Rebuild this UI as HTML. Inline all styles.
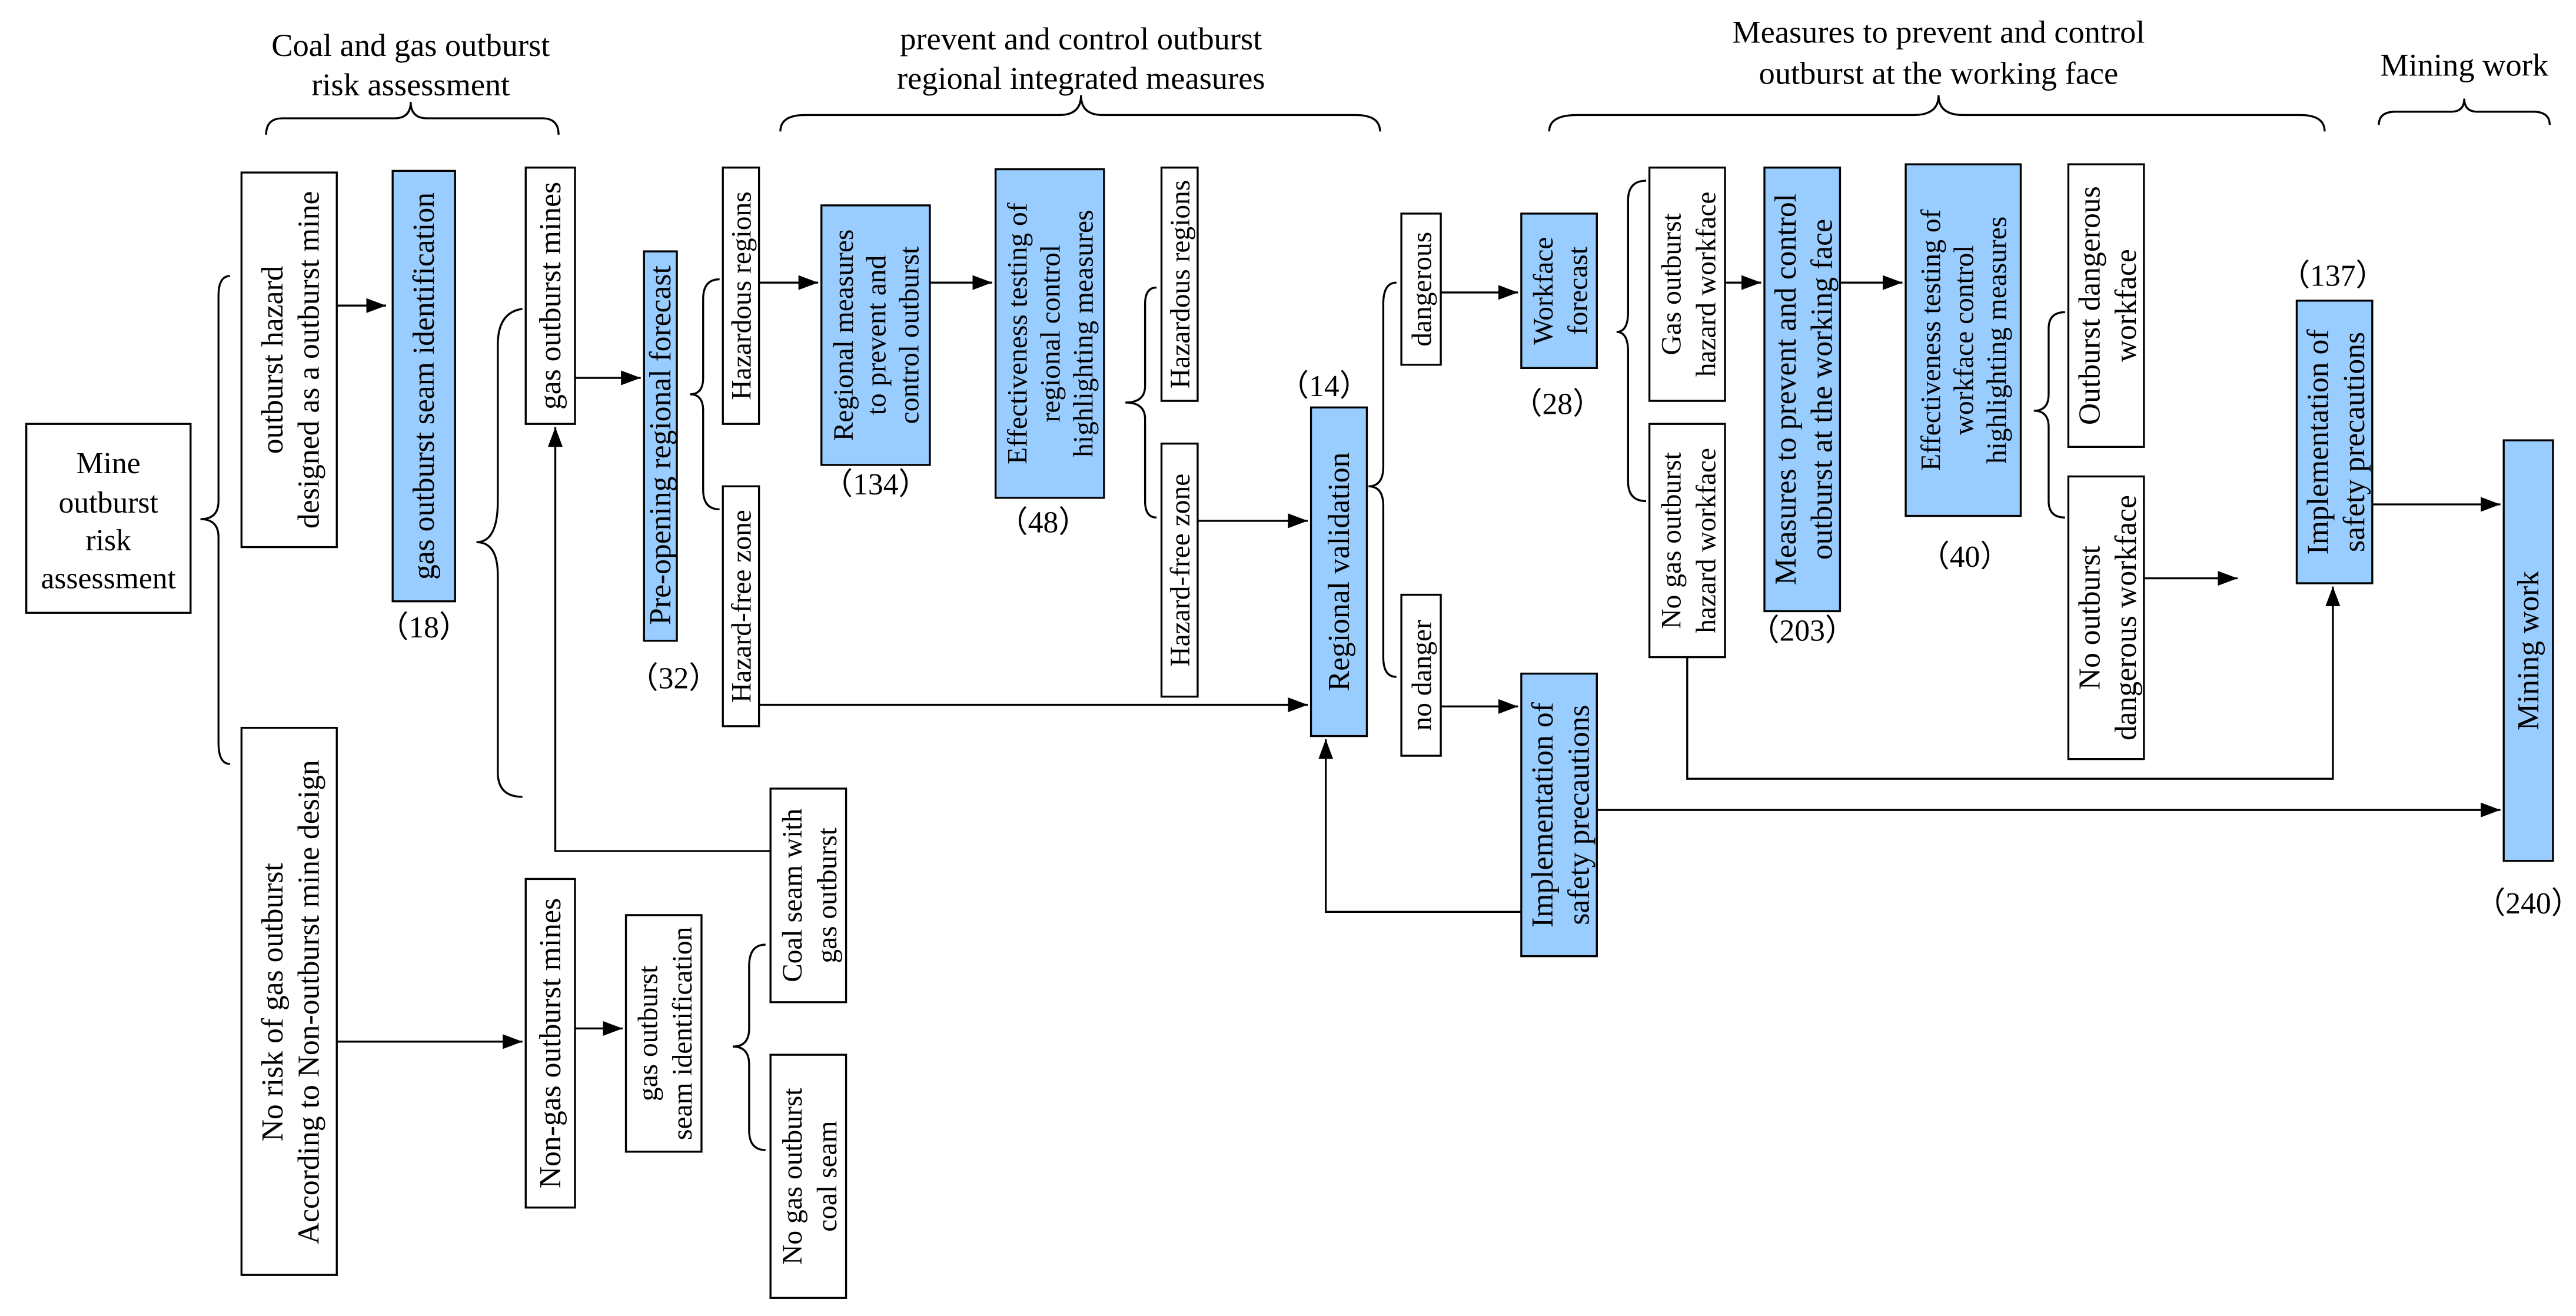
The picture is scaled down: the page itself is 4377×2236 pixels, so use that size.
<!DOCTYPE html>
<html><head><meta charset="utf-8"><style>
html,body{margin:0;padding:0;background:#fff;}
svg{display:block;}
svg text{font-family:"Liberation Serif","DejaVu Serif",serif;font-size:18.5px;fill:#000;}
.b{fill:#fff;stroke:#000;stroke-width:1.2;}
.u{fill:#99ccff;stroke:#000;stroke-width:1.2;}
.l{fill:none;stroke:#000;stroke-width:1.2;}
.h{font-size:19.5px;}
svg text.s{font-size:17px;}
</style></head><body>
<svg width="4377" height="2236" viewBox="0 0 1568 801" xmlns="http://www.w3.org/2000/svg" font-family="Liberation Serif, DejaVu Serif, serif">
<defs><marker id="a" markerWidth="12" markerHeight="9" refX="12" refY="4.5" orient="auto" markerUnits="userSpaceOnUse"><path d="M0,0 L12,4.5 L0,9 z" fill="#000"/></marker></defs>

<text class="h" x="250" y="34" text-anchor="middle">Coal and gas outburst</text>
<text class="h" x="250" y="58" text-anchor="middle">risk assessment</text>
<text class="h" x="658" y="30" text-anchor="middle">prevent and control outburst</text>
<text class="h" x="658" y="54" text-anchor="middle">regional integrated measures</text>
<text class="h" x="1180" y="26" text-anchor="middle">Measures to prevent and control</text>
<text class="h" x="1180" y="51" text-anchor="middle">outburst at the working face</text>
<text class="h" x="1500" y="46" text-anchor="middle">Mining work</text>

<path class="l" d="M162,82 Q162,72 172,72 L240,72 Q250,72 250,62 Q250,72 260,72 L330,72 Q340,72 340,82"/>
<path class="l" d="M475,80 Q475,70 490,70 L645,70 Q658,70 658,58 Q658,70 671,70 L825,70 Q840,70 840,80"/>
<path class="l" d="M943,80 Q943,70 960,70 L1165,70 Q1180,70 1180,58 Q1180,70 1195,70 L1400,70 Q1415,70 1415,80"/>
<path class="l" d="M1448,76 Q1448,68 1458,68 L1492,68 Q1500,68 1500,60 Q1500,68 1508,68 L1542,68 Q1552,68 1552,76"/>

<path class="l" d="M140,168 Q133,168 133,180 L133,305 Q133,316 122,316 Q133,316 133,327 L133,452 Q133,465 140,465"/>
<path class="l" d="M318,188 Q303,190 303,210 L303,305 Q303,330 290,330 Q303,330 303,350 L303,470 Q303,485 318,485"/>
<path class="l" d="M438,170 Q428,170 428,182 L428,230 Q428,240 420,240 Q428,240 428,250 L428,298 Q428,310 438,310"/>
<path class="l" d="M704,175 Q697,175 697,185 L697,235 Q697,245 685,245 Q697,245 697,255 L697,305 Q697,315 704,315"/>
<path class="l" d="M850,172 Q842,172 842,185 L842,284 Q842,296 833,296 Q842,296 842,308 L842,400 Q842,412 850,412"/>
<path class="l" d="M1002,110 Q991,110 991,122 L991,190 Q991,202 984,202 Q991,202 991,214 L991,293 Q991,305 1002,305"/>
<path class="l" d="M1257,190 Q1247,190 1247,200 L1247,240 Q1247,250 1238,250 Q1247,250 1247,260 L1247,305 Q1247,315 1257,315"/>
<path class="l" d="M466,575 Q456,575 456,588 L456,626 Q456,637 446,637 Q456,637 456,648 L456,688 Q456,700 466,700"/>

<g class="l">
<line x1="205" y1="186" x2="235" y2="186" marker-end="url(#a)"/>
<line x1="350" y1="230" x2="390" y2="230" marker-end="url(#a)"/>
<line x1="462" y1="172" x2="498" y2="172" marker-end="url(#a)"/>
<line x1="566" y1="172" x2="604" y2="172" marker-end="url(#a)"/>
<line x1="729" y1="317" x2="796" y2="317" marker-end="url(#a)"/>
<line x1="462" y1="429" x2="796" y2="429" marker-end="url(#a)"/>
<line x1="877" y1="178" x2="924" y2="178" marker-end="url(#a)"/>
<line x1="877" y1="430" x2="924" y2="430" marker-end="url(#a)"/>
<line x1="1050" y1="172" x2="1072" y2="172" marker-end="url(#a)"/>
<line x1="1120" y1="172" x2="1158" y2="172" marker-end="url(#a)"/>
<line x1="1305" y1="352" x2="1362" y2="352" marker-end="url(#a)"/>
<line x1="1444" y1="307" x2="1522" y2="307" marker-end="url(#a)"/>
<line x1="972" y1="493" x2="1522" y2="493" marker-end="url(#a)"/>
<polyline points="1027,400 1027,474 1420,474 1420,357" marker-end="url(#a)"/>
<polyline points="926,555 807,555 807,450" marker-end="url(#a)"/>
<polyline points="469,518 338,518 338,260" marker-end="url(#a)"/>
<line x1="205" y1="634" x2="318" y2="634" marker-end="url(#a)"/>
<line x1="350" y1="626" x2="379" y2="626" marker-end="url(#a)"/>
</g>

<rect class="b" x="16" y="258" width="100" height="115"/>
<text x="66" y="288" text-anchor="middle">Mine</text>
<text x="66" y="312" text-anchor="middle">outburst</text>
<text x="66" y="335" text-anchor="middle">risk</text>
<text x="66" y="358" text-anchor="middle">assessment</text>

<g text-anchor="middle">
<rect class="b" x="147" y="105" width="58" height="228"/>
<text transform="translate(176,219) rotate(-90)"><tspan x="0" y="-4">outburst hazard</tspan><tspan x="0" y="18">designed as a outburst mine</tspan></text>

<rect class="u" x="239" y="104" width="38" height="262"/>
<text transform="translate(258,235) rotate(-90)" y="6">gas outburst seam identification</text>

<rect class="b" x="320" y="102" width="30" height="156"/>
<text transform="translate(335,180) rotate(-90)" y="6">gas outburst mines</text>

<rect class="u" x="392" y="153" width="20" height="237"/>
<text transform="translate(402,271) rotate(-90)" y="6">Pre-opening regional forecast</text>

<rect class="b" x="440" y="102" width="22" height="156"/>
<text class="s" transform="translate(451,180) rotate(-90)" y="6">Hazardous regions</text>
<rect class="b" x="440" y="296" width="22" height="146"/>
<text class="s" transform="translate(451,369) rotate(-90)" y="6">Hazard-free zone</text>

<rect class="u" x="500" y="125" width="66" height="158"/>
<text class="s" transform="translate(533,204) rotate(-90)"><tspan x="0" y="-14">Regional measures</tspan><tspan x="0" y="6">to prevent and</tspan><tspan x="0" y="26">control outburst</tspan></text>

<rect class="u" x="606" y="103" width="66" height="200"/>
<text class="s" transform="translate(639,203) rotate(-90)"><tspan x="0" y="-14">Effectiveness testing of</tspan><tspan x="0" y="6">regional control</tspan><tspan x="0" y="26">highlighting measures</tspan></text>

<rect class="b" x="707" y="102" width="22" height="142"/>
<text class="s" transform="translate(718,173) rotate(-90)" y="6" font-size="16">Hazardous regions</text>
<rect class="b" x="707" y="270" width="22" height="154"/>
<text class="s" transform="translate(718,347) rotate(-90)" y="6">Hazard-free zone</text>

<rect class="u" x="798" y="248" width="34" height="200"/>
<text transform="translate(815,348) rotate(-90)" y="6">Regional validation</text>

<rect class="b" x="853" y="130" width="24" height="92"/>
<text class="s" transform="translate(865,176) rotate(-90)" y="6">dangerous</text>
<rect class="b" x="853" y="362" width="24" height="98"/>
<text class="s" transform="translate(865,411) rotate(-90)" y="6">no danger</text>

<rect class="u" x="926" y="130" width="46" height="94"/>
<text class="s" transform="translate(949,177) rotate(-90)"><tspan x="0" y="-4">Workface</tspan><tspan x="0" y="17">forecast</tspan></text>

<rect class="u" x="926" y="410" width="46" height="172"/>
<text transform="translate(949,496) rotate(-90)"><tspan x="0" y="-4">Implementation of</tspan><tspan x="0" y="18">safety precautions</tspan></text>

<rect class="b" x="1004" y="102" width="46" height="142"/>
<text class="s" transform="translate(1027,173) rotate(-90)"><tspan x="0" y="-4">Gas outburst</tspan><tspan x="0" y="17">hazard workface</tspan></text>
<rect class="b" x="1004" y="258" width="46" height="142"/>
<text class="s" transform="translate(1027,329) rotate(-90)"><tspan x="0" y="-4">No gas outburst</tspan><tspan x="0" y="17">hazard workface</tspan></text>

<rect class="u" x="1074" y="102" width="46" height="270"/>
<text transform="translate(1097,237) rotate(-90)"><tspan x="0" y="-4">Measures to prevent and control</tspan><tspan x="0" y="18">outburst at the working face</tspan></text>

<rect class="u" x="1160" y="100" width="70" height="214"/>
<text class="s" transform="translate(1195,207) rotate(-90)"><tspan x="0" y="-14">Effectiveness testing of</tspan><tspan x="0" y="6">workface control</tspan><tspan x="0" y="26">highlighting measures</tspan></text>

<rect class="b" x="1259" y="100" width="46" height="172"/>
<text transform="translate(1282,186) rotate(-90)"><tspan x="0" y="-4">Outburst dangerous</tspan><tspan x="0" y="18">workface</tspan></text>
<rect class="b" x="1259" y="290" width="46" height="172"/>
<text transform="translate(1282,376) rotate(-90)"><tspan x="0" y="-4">No outburst</tspan><tspan x="0" y="18">dangerous workface</tspan></text>

<rect class="u" x="1398" y="183" width="46" height="172"/>
<text transform="translate(1421,269) rotate(-90)"><tspan x="0" y="-4">Implementation of</tspan><tspan x="0" y="18">safety precautions</tspan></text>

<rect class="u" x="1524" y="268" width="30" height="256"/>
<text transform="translate(1539,396) rotate(-90)" y="6">Mining work</text>

<rect class="b" x="147" y="443" width="58" height="333"/>
<text transform="translate(176,610) rotate(-90)"><tspan x="0" y="-4">No risk of gas outburst</tspan><tspan x="0" y="18">According to Non-outburst mine design</tspan></text>

<rect class="b" x="320" y="535" width="30" height="200"/>
<text transform="translate(335,635) rotate(-90)" y="6">Non-gas outburst mines</text>

<rect class="b" x="381" y="557" width="46" height="144"/>
<text class="s" transform="translate(404,629) rotate(-90)"><tspan x="0" y="-4">gas outburst</tspan><tspan x="0" y="17">seam identification</tspan></text>

<rect class="b" x="469" y="480" width="46" height="130"/>
<text class="s" transform="translate(492,545) rotate(-90)"><tspan x="0" y="-4">Coal seam with</tspan><tspan x="0" y="17">gas outburst</tspan></text>
<rect class="b" x="469" y="642" width="46" height="148"/>
<text class="s" transform="translate(492,716) rotate(-90)"><tspan x="0" y="-4">No gas outburst</tspan><tspan x="0" y="17">coal seam</tspan></text>

<text x="258" y="388">（18）</text>
<text x="410" y="419">（32）</text>
<text x="533" y="301">（134）</text>
<text x="635" y="324">（48）</text>
<text x="806" y="241">（14）</text>
<text x="948" y="252">（28）</text>
<text x="1097" y="390">（203）</text>
<text x="1196" y="345">（40）</text>
<text x="1420" y="174">（137）</text>
<text x="1539" y="556">（240）</text>
</g>
</svg>
</body></html>
